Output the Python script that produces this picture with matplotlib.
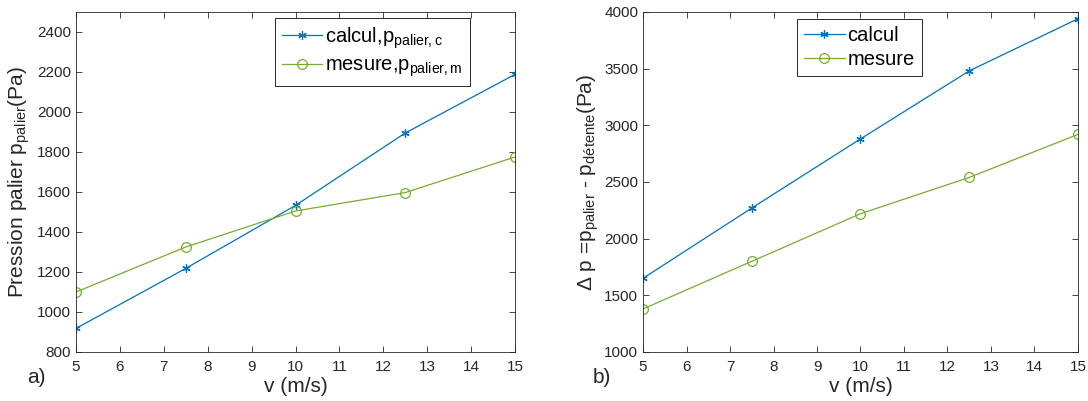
import matplotlib
matplotlib.use("Agg")
import matplotlib.pyplot as plt

plt.rcParams['font.family'] = ['Liberation Sans', 'DejaVu Sans']
plt.rcParams['mathtext.fontset'] = 'custom'
plt.rcParams['mathtext.rm'] = 'Liberation Sans'
plt.rcParams['mathtext.it'] = 'Liberation Sans'

# donnees
v = [5, 7.5, 10, 12.5, 15]
p_calcul = [918, 1218, 1533, 1895, 2188]
p_mesure = [1100, 1325, 1505, 1597, 1775]
dp_calcul = [1650, 2270, 2880, 3480, 3940]
dp_mesure = [1380, 1800, 2220, 2540, 2920]

bleu = '#0072BD'
vert = '#77AC30'
gris = '#262626'

fig = plt.figure(figsize=(10.88, 4.01), dpi=100)
ax1 = fig.add_axes([0.0699, 0.1222, 0.4035, 0.848])
ax2 = fig.add_axes([0.591, 0.1222, 0.3998, 0.848])

def style(ax):
    ax.tick_params(direction='in', top=True, right=True, labelsize=11,
                   colors=gris, length=4, width=0.6)
    ax.tick_params(axis='x', pad=6)
    for s in ax.spines.values():
        s.set_linewidth(0.6)
        s.set_color(gris)
    ax.set_xlim(5, 15)
    ax.set_xticks(range(5, 16))
    ax.set_xlabel('v (m/s)', fontsize=15, color=gris, labelpad=2)

def legende(ax, ancre):
    leg = ax.legend(loc='upper right', bbox_to_anchor=ancre, borderaxespad=0,
                    fontsize=14.5, fancybox=False, framealpha=1, edgecolor=gris,
                    handlelength=2.0, borderpad=0.35, labelspacing=0.25,
                    handletextpad=0.15)
    leg.get_frame().set_linewidth(0.7)

ax1.plot(v, p_calcul, color=bleu, lw=0.9, marker=(6, 2, 0), ms=6, mew=0.9,
         label=r'calcul,p$_{\mathregular{palier,c}}$')
ax1.plot(v, p_mesure, color=vert, lw=0.9, marker='o', ms=7, mfc='none', mew=0.9,
         label=r'mesure,p$_{\mathregular{palier,m}}$')
style(ax1)
ax1.set_ylim(800, 2500)
ax1.set_yticks(range(800, 2401, 200))
ax1.set_ylabel(r'Pression palier p$_{\mathregular{palier}}$(Pa)', fontsize=15, color=gris, labelpad=4)
legende(ax1, (0.897, 0.982))

ax2.plot(v, dp_calcul, color=bleu, lw=0.9, marker=(6, 2, 0), ms=6, mew=0.9, label='calcul')
ax2.plot(v, dp_mesure, color=vert, lw=0.9, marker='o', ms=7, mfc='none', mew=0.9, label='mesure')
style(ax2)
ax2.set_ylim(1000, 4000)
ax2.set_yticks(range(1000, 4001, 500))
ax2.set_ylabel(r'$\Delta$ p =p$_{\mathregular{palier}}$ - p$_{\mathregular{détente}}$(Pa)',
               fontsize=15, color=gris, labelpad=2)
legende(ax2, (0.641, 0.979))

fig.text(0.025, 0.045, 'a)', fontsize=15, color=gris)
fig.text(0.545, 0.045, 'b)', fontsize=15, color=gris)

fig.savefig('out.png', dpi=100)
